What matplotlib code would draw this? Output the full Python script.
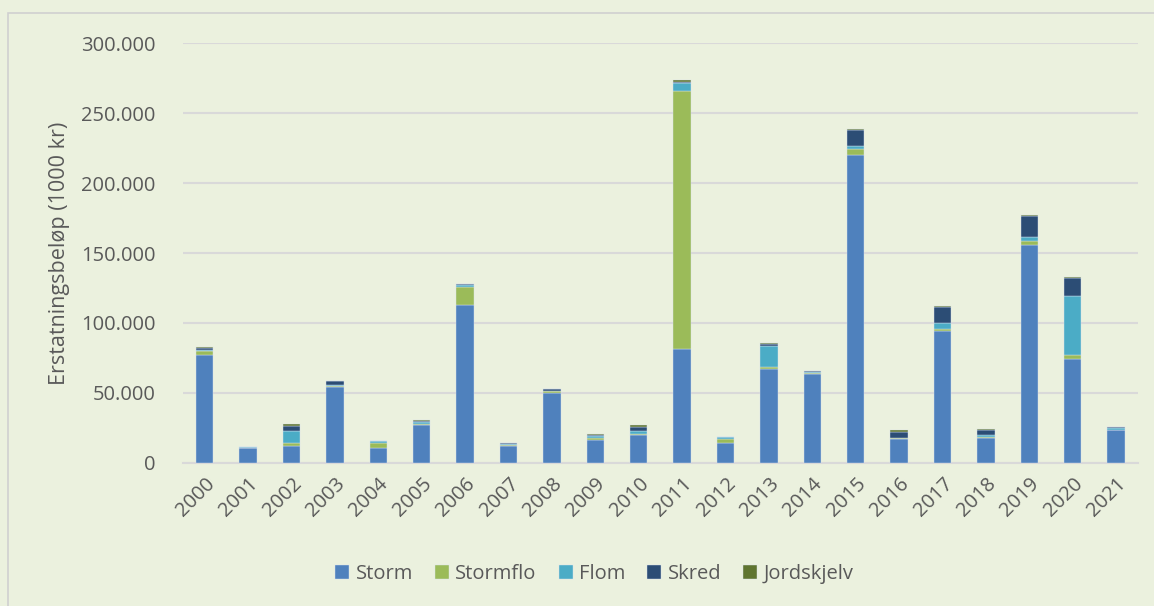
import numpy as np
import matplotlib.pyplot as plt
from matplotlib.ticker import FuncFormatter
from matplotlib.patches import Rectangle

years = [str(y) for y in range(2000, 2022)]

# values in 1000 kr
storm = [77.0, 10.5, 12.4, 54.5, 11.0, 26.9, 112.9, 12.0, 50.2, 16.4, 20.2,
         81.2, 14.5, 67.4, 63.3, 220.0, 16.9, 94.3, 18.1, 155.7, 74.3, 23.6]
stormflo = [3.0, 0.3, 1.6, 0.2, 3.3, 1.0, 12.6, 0.5, 1.0, 1.4, 0.4,
            184.5, 2.9, 1.2, 0.7, 4.3, 0.7, 1.4, 0.3, 2.9, 2.8, 0.2]
flom = [0.6, 0.4, 8.8, 1.2, 1.4, 1.2, 1.6, 1.3, 0.5, 1.4, 2.6,
        5.5, 1.0, 15.2, 1.0, 1.9, 0.5, 4.3, 1.9, 3.1, 42.4, 1.2]
skred = [1.8, 0.2, 3.9, 2.4, 0.2, 1.0, 0.9, 0.3, 1.0, 1.0, 2.6,
         1.2, 0.3, 1.2, 0.7, 11.7, 4.3, 11.7, 3.6, 15.0, 12.9, 0.7]
jordskjelv = [0.3, 0.1, 0.9, 0.4, 0.0, 0.7, 0.1, 0.1, 0.2, 0.5, 1.0,
              1.2, 0.0, 0.7, 0.1, 0.5, 1.2, 0.3, 0.1, 0.5, 0.5, 0.1]

series = [("Storm", storm, "#4F81BD"),
          ("Stormflo", stormflo, "#9BBB59"),
          ("Flom", flom, "#4BACC6"),
          ("Skred", skred, "#2C4D75"),
          ("Jordskjelv", jordskjelv, "#5F7530")]

plt.rcParams['font.family'] = ['Open Sans', 'DejaVu Sans']
bg = "#EBF1DE"
txt = "#595959"

fig = plt.figure(figsize=(11.54, 6.06), dpi=100, facecolor=bg)
fig.patches.append(Rectangle((8 / 1154, -0.1), 1.2, 1 - 13 / 606 + 0.1,
                             transform=fig.transFigure, fill=False,
                             edgecolor="#D0D0D0", linewidth=1.2))
ax = fig.add_axes([0.1586, 0.236, 0.8274, 0.693])
ax.set_facecolor(bg)

x = np.arange(len(years))
bottom = np.zeros(len(years))
for name, vals, color in series:
    vals = np.array(vals) * 1000
    ax.bar(x, vals, 0.4, bottom=bottom, color=color, label=name,
           edgecolor="#D8E2EE", linewidth=0.3, zorder=3)
    bottom += vals

ax.set_xlim(-0.5, len(years) - 0.5)
ax.set_ylim(0, 300000)
ax.set_yticks(np.arange(0, 300001, 50000))
ax.yaxis.set_major_formatter(FuncFormatter(lambda v, p: f"{int(v):,}".replace(",", ".")))
ax.grid(axis='y', color="#D9D9D9", linewidth=1.5, zorder=0)
ax.set_xticks(x)
ax.set_xticklabels(years, rotation=45, ha='right', va='top', rotation_mode='anchor')
ax.tick_params(axis='both', length=0, labelsize=14.5, colors=txt)
ax.tick_params(axis='x', pad=8)
ax.tick_params(axis='y', pad=20)
for side in ['top', 'right', 'left']:
    ax.spines[side].set_visible(False)
ax.spines['bottom'].set_color("#D9D9D9")
ax.spines['bottom'].set_linewidth(1.5)

ax.set_ylabel("Erstatningsbeløp (1000 kr)", fontsize=15.5, color=txt, labelpad=8)

fig.legend(loc='center', bbox_to_anchor=(0.515, 0.053), ncol=5, frameon=False,
           fontsize=14.5, labelcolor=txt, handlelength=0.7, handleheight=0.7,
           handletextpad=0.3, columnspacing=1.1)

fig.savefig("out.png", dpi=100, facecolor=bg)
